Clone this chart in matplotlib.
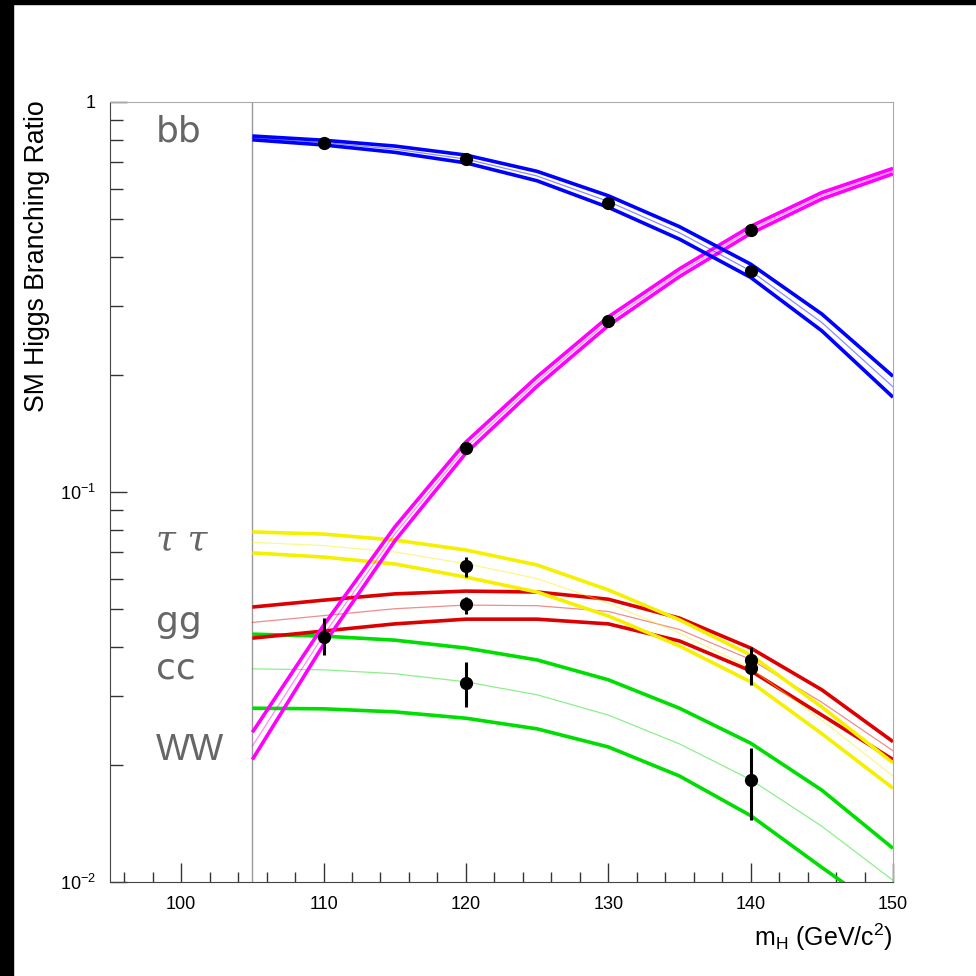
import numpy as np
import matplotlib
matplotlib.use('Agg')
import matplotlib.pyplot as plt
from matplotlib.patches import Rectangle

plt.rcParams['font.family'] = ['Liberation Sans', 'DejaVu Sans']
plt.rcParams['mathtext.fontset'] = 'custom'
plt.rcParams['mathtext.rm'] = 'Liberation Sans'
plt.rcParams['mathtext.it'] = 'Liberation Sans:italic'

# Higgs mass grid (GeV/c^2)
mass = [105, 110, 115, 120, 125, 130, 135, 140, 145, 150]

# branching ratio bands: central, upper, lower
bb_mid = [0.809, 0.787, 0.757, 0.714, 0.646, 0.556, 0.462, 0.369, 0.272, 0.186]
bb_hi = [0.818, 0.798, 0.771, 0.731, 0.664, 0.575, 0.479, 0.384, 0.286, 0.198]
bb_lo = [0.800, 0.776, 0.743, 0.698, 0.628, 0.537, 0.445, 0.355, 0.259, 0.175]

ww_mid = [0.0223, 0.0430, 0.078, 0.130, 0.192, 0.274, 0.365, 0.470, 0.575, 0.665]
ww_hi = [0.0242, 0.0455, 0.0813, 0.1343, 0.1974, 0.2811, 0.3734, 0.4799, 0.5859, 0.6757]
ww_lo = [0.0206, 0.0406, 0.0749, 0.1258, 0.1868, 0.2671, 0.3568, 0.4603, 0.5643, 0.6545]

tau_mid = [0.0743, 0.0729, 0.0702, 0.0655, 0.0600, 0.0519, 0.0435, 0.0353, 0.0260, 0.0187]
tau_hi = [0.0790, 0.0780, 0.0753, 0.0710, 0.0650, 0.0561, 0.0470, 0.0382, 0.0281, 0.0202]
tau_lo = [0.0698, 0.0681, 0.0654, 0.0605, 0.0554, 0.0481, 0.0403, 0.0326, 0.0240, 0.0174]

gg_mid = [0.0463, 0.0482, 0.0502, 0.0513, 0.0511, 0.0494, 0.0444, 0.0372, 0.0289, 0.0217]
gg_hi = [0.0507, 0.0528, 0.0548, 0.0557, 0.0554, 0.0531, 0.0475, 0.0398, 0.0311, 0.0229]
gg_lo = [0.0422, 0.0440, 0.0459, 0.0472, 0.0472, 0.0459, 0.0415, 0.0348, 0.0268, 0.0206]

cc_mid = [0.0352, 0.0350, 0.0342, 0.0326, 0.0302, 0.0268, 0.0226, 0.0183, 0.0139, 0.0101]
cc_hi = [0.0432, 0.0427, 0.0417, 0.0398, 0.0371, 0.0330, 0.0279, 0.0227, 0.0172, 0.0122]
cc_lo = [0.0279, 0.0278, 0.0273, 0.0263, 0.0247, 0.0222, 0.0187, 0.0148, 0.0109, 0.0081]

# measured points with errors
pts_m = [110, 120, 130, 140,
         110, 120, 130, 140,
         120, 140,
         120, 140,
         120, 140]
pts_v = [0.785, 0.714, 0.551, 0.369,
         0.0425, 0.130, 0.274, 0.470,
         0.0646, 0.0354,
         0.0516, 0.0371,
         0.0324, 0.0183]
pts_up = [0.785, 0.714, 0.551, 0.369,
          0.0475, 0.130, 0.274, 0.470,
          0.0681, 0.0375,
          0.0538, 0.0400,
          0.0367, 0.0221]
pts_dn = [0.785, 0.714, 0.551, 0.369,
          0.0382, 0.130, 0.274, 0.470,
          0.0605, 0.0320,
          0.0487, 0.0346,
          0.0281, 0.0144]

bands = [
    (cc_mid, cc_hi, cc_lo, '#00dd00'),
    (gg_mid, gg_hi, gg_lo, '#dd0000'),
    (tau_mid, tau_hi, tau_lo, '#f5f000'),
    (ww_mid, ww_hi, ww_lo, '#ff00ff'),
    (bb_mid, bb_hi, bb_lo, '#0000ff'),
]

labels = ['bb', 'τ τ', 'gg', 'cc', 'WW']
label_y = [0.84, 0.0755, 0.0465, 0.0352, 0.0218]
label_font = ['DejaVu Sans', 'DejaVu Serif', 'DejaVu Sans', 'DejaVu Sans', 'Liberation Sans']
label_style = ['normal', 'italic', 'normal', 'normal', 'normal']

fig = plt.figure(figsize=(9.76, 9.76), dpi=100, facecolor='white')
# black frame strips at top and left edge
fig.patches.append(Rectangle((0, 0), 13 / 976, 1, transform=fig.transFigure,
                             color='black', zorder=0))
fig.patches.append(Rectangle((0, 1 - 4 / 976), 1, 4 / 976, transform=fig.transFigure,
                             color='black', zorder=0))

ax = fig.add_axes([110 / 976, 94 / 976, 783 / 976, 780 / 976])
ax.set_yscale('log')
ax.set_xlim(95, 150)
ax.set_ylim(0.01, 1)

ax.axvline(105, color='#999999', lw=1)

for mid, hi, lo, col in bands:
    ax.plot(mass, hi, color=col, lw=2.6, solid_capstyle='butt', solid_joinstyle='round')
    ax.plot(mass, lo, color=col, lw=2.6, solid_capstyle='butt', solid_joinstyle='round')
    ax.plot(mass, mid, color=col, lw=0.9, alpha=0.45)

pv = np.array(pts_v)
yerr = [pv - np.array(pts_dn), np.array(pts_up) - pv]
ax.errorbar(pts_m, pts_v, yerr=yerr, fmt='o', color='black', ms=8.5,
            elinewidth=2.2, capsize=0, zorder=10)

for lab, yv, fam, sty in zip(labels, label_y, label_font, label_style):
    ax.text(98.2, yv, lab, fontsize=26, color='#666666', va='center', ha='left',
            family=fam, style=sty)

ax.set_xticks([100, 110, 120, 130, 140, 150])
ax.set_xticks(np.arange(96, 150, 2), minor=True)
ax.set_yticks([0.01, 0.1, 1])
ax.set_yticklabels([r'$10^{-2}$', r'$10^{-1}$', '1'])
ax.tick_params(axis='both', which='both', direction='in', colors='#333333',
               labelsize=13, labelcolor='black')
ax.tick_params(axis='x', which='major', length=14, width=1, pad=10)
ax.tick_params(axis='x', which='minor', length=7, width=1)
ax.tick_params(axis='y', which='major', length=12, width=1, pad=10)
ax.tick_params(axis='y', which='minor', length=9, width=1)

for side in ['left', 'bottom']:
    ax.spines[side].set_color('#444444')
for side in ['top', 'right']:
    ax.spines[side].set_color('#aaaaaa')

ax.set_xlabel(r'm$_{\rm H}$ (GeV/c$^{2}$)', fontsize=18, loc='right', labelpad=6)
fig.text(37 / 976, 1 - 100 / 976, 'SM Higgs Branching Ratio', rotation=90,
         fontsize=19.2, ha='center', va='top')

fig.savefig('out.png', dpi=100, facecolor='white')
